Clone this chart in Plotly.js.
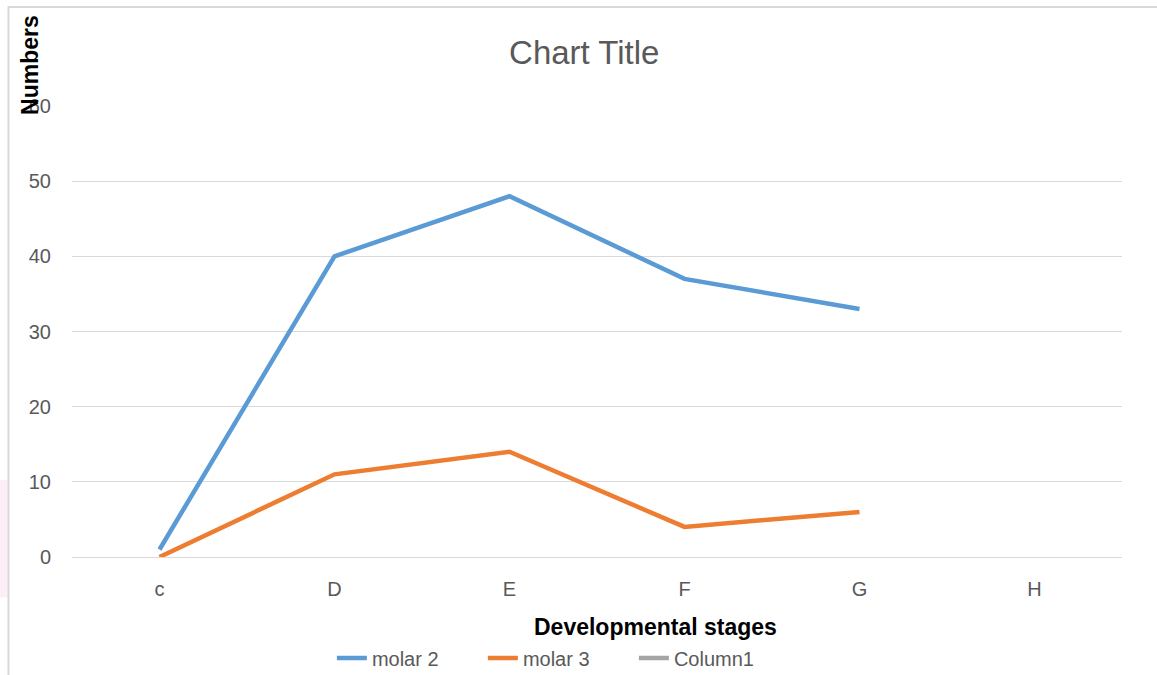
<!DOCTYPE html>
<html>
<head>
<meta charset="utf-8">
<script src="https://cdn.plot.ly/plotly-3.0.1.min.js"></script>
<style>html,body{margin:0;padding:0;background:#fff;}#chart{width:1157px;height:675px;}</style>
</head>
<body>
<div id="chart"></div>
<script>
const categories = ["c", "D", "E", "F", "G", "H"];
const molar2 = [1, 40, 48, 37, 33, null];
const molar3 = [0, 11, 14, 4, 6, null];
const column1 = [null, null, null, null, null, null];
const yTicks = [0, 10, 20, 30, 40, 50, 60];

const FONT = "Liberation Sans, Arial, sans-serif";
const GRAY = "#595959";

const traces = [
  {x: categories, y: molar2, name: "molar 2", type: "scatter", mode: "lines",
   line: {color: "#5b9bd5", width: 4.5}},
  {x: categories, y: molar3, name: "molar 3", type: "scatter", mode: "lines",
   line: {color: "#ed7d31", width: 4.5}},
  {x: categories, y: column1, name: "Column1", type: "scatter", mode: "lines",
   line: {color: "#a5a5a5", width: 4.5}, showlegend: true}
];

const layout = {
  width: 1157, height: 675,
  margin: {l: 72, r: 35, t: 106, b: 118, autoexpand: false},
  paper_bgcolor: "#ffffff", plot_bgcolor: "#ffffff",
  font: {family: FONT, color: GRAY, size: 20},
  title: {text: "Chart Title", font: {family: FONT, size: 33, color: GRAY},
          x: 0.505, xanchor: "center", y: 0.922, yanchor: "middle"},
  xaxis: {type: "category", categoryarray: categories, range: [-0.5, 5.5],
          showgrid: false, zeroline: false, showline: true, linecolor: "#d9d9d9", linewidth: 1,
          ticks: "", tickfont: {family: FONT, size: 20, color: GRAY}, ticklabelstandoff: 14},
  yaxis: {range: [0, 60], tickvals: yTicks, showgrid: true, gridcolor: "#d9d9d9", gridwidth: 1,
          zeroline: false, showline: false, ticks: "",
          tickfont: {family: FONT, size: 20, color: GRAY}, ticklabelstandoff: 20},
  showlegend: true,
  legend: {orientation: "h", x: 0.2475, xanchor: "left", y: -0.224, yanchor: "middle",
           font: {family: FONT, size: 20, color: GRAY}, entrywidth: 106, entrywidthmode: "pixels",
           tracegroupgap: 0, bgcolor: "rgba(0,0,0,0)"},
  annotations: [
    {text: "<b>Numbers</b>", xref: "paper", yref: "paper", x: -0.04, y: 1.091,
     xanchor: "center", yanchor: "middle", textangle: -90, showarrow: false,
     font: {family: FONT, size: 23, color: "#000000"}},
    {text: "<b>Developmental stages</b>", xref: "paper", yref: "paper", x: 0.556, y: -0.155,
     xanchor: "center", yanchor: "middle", showarrow: false,
     font: {family: FONT, size: 23, color: "#000000"}}
  ],
  shapes: [
    {type: "rect", xref: "paper", yref: "paper", x0: -0.0686, x1: -0.0605, y0: -0.09, y1: 0.17,
     line: {width: 0}, fillcolor: "rgba(250,215,235,0.45)", layer: "below"},
    {type: "rect", xref: "paper", yref: "paper", x0: -0.0605, x1: 1.2, y0: -0.3, y1: 1.2195,
     line: {color: "#d9d9d9", width: 2}, fillcolor: "rgba(0,0,0,0)", layer: "below"}
  ]
};

Plotly.newPlot("chart", traces, layout, {displayModeBar: false, staticPlot: true});
</script>
</body>
</html>
